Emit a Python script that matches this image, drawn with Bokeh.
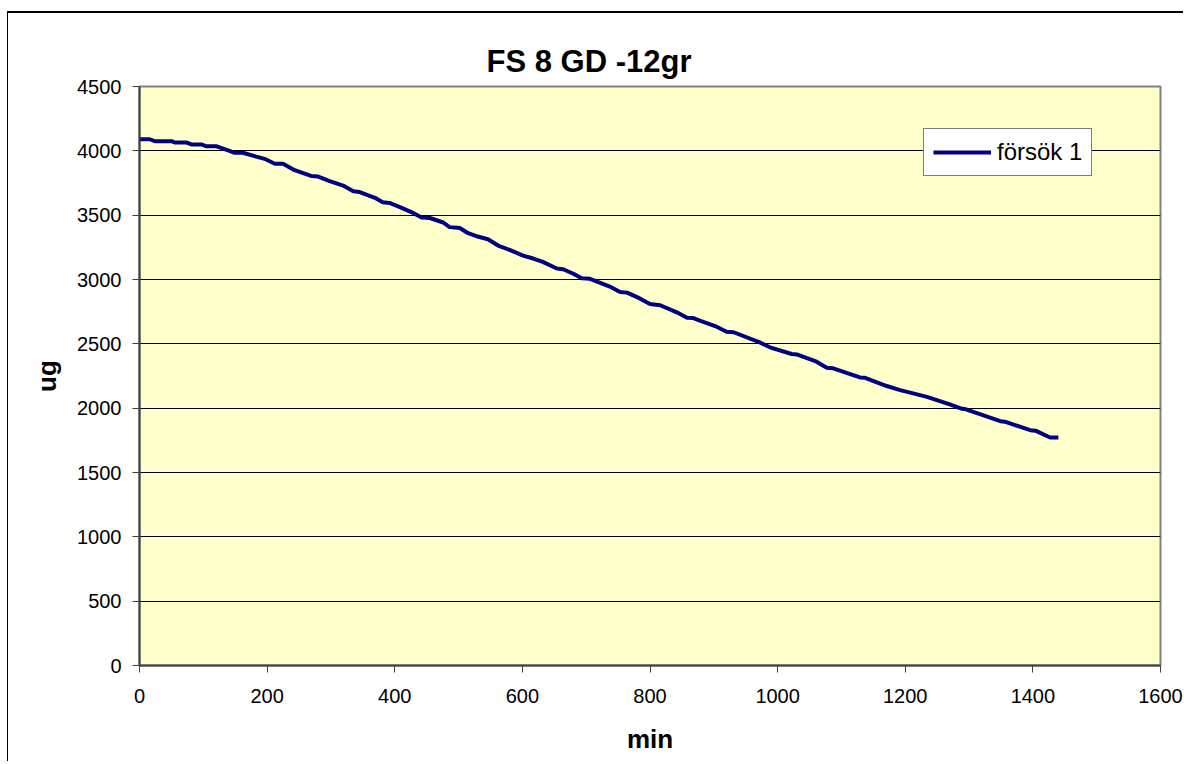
from bokeh.plotting import figure
from bokeh.models import Legend, LegendItem, Range1d, FixedTicker
from bokeh.embed import file_html
from bokeh.resources import INLINE

# data
minutes = [0, 16, 24, 50, 55, 73, 81, 97, 105, 121, 141, 149, 162, 183, 196, 212, 225,
           243, 269, 280, 298, 319, 335, 345, 369, 381, 392, 408, 426, 442, 455, 476,
           486, 502, 515, 530, 546, 562, 580, 601, 617, 632, 654, 664, 680, 693, 706,
           737, 753, 764, 784, 800, 816, 842, 858, 868, 878, 902, 920, 931, 973, 988,
           1022, 1030, 1061, 1077, 1087, 1129, 1137, 1171, 1192, 1234, 1271, 1289,
           1294, 1349, 1356, 1396, 1404, 1427, 1440]
ug = [4090, 4090, 4075, 4075, 4065, 4065, 4050, 4050, 4035, 4035, 4000, 3985, 3985,
      3955, 3938, 3900, 3900, 3850, 3805, 3800, 3765, 3730, 3685, 3680, 3635, 3600,
      3595, 3563, 3524, 3482, 3478, 3443, 3407, 3400, 3360, 3334, 3313, 3264, 3230,
      3186, 3163, 3137, 3085, 3080, 3045, 3009, 3005, 2945, 2903, 2898, 2853, 2809,
      2800, 2745, 2703, 2700, 2680, 2638, 2594, 2590, 2509, 2473, 2421, 2418, 2361,
      2314, 2310, 2239, 2236, 2172, 2140, 2088, 2027, 1995, 1993, 1899, 1895, 1829,
      1825, 1772, 1772]
series_name = "försök 1"
title_text = "FS 8 GD -12gr"
x_label = "min"
y_label = "ug"
x_ticks = [0, 200, 400, 600, 800, 1000, 1200, 1400, 1600]
y_ticks = [0, 500, 1000, 1500, 2000, 2500, 3000, 3500, 4000, 4500]

FONT = "Liberation Sans"

p = figure(width=1176, height=750, output_backend="svg", toolbar_location=None,
           x_range=Range1d(0, 1600), y_range=Range1d(0, 4500),
           min_border_left=131, min_border_right=24, min_border_top=73,
           min_border_bottom=98)
p.margin = (11, 0, 0, 7)
p.styles = {"border-left": "1px solid black", "border-top": "2px solid black"}

p.title.text = title_text
p.title.align = "left"
p.title.text_font = FONT
p.title.text_font_size = "31px"
p.title.text_font_style = "bold"
p.title.text_color = "black"
p.title.offset = 347
p.title.standoff = 16

p.background_fill_color = "#FFFFCC"
p.border_fill_color = "white"
p.outline_line_color = "#808080"
p.outline_line_width = 2

r = p.line(minutes, ug, line_color="#000080", line_width=4)

p.xgrid.grid_line_color = None
p.ygrid.grid_line_color = "black"
p.ygrid.grid_line_width = 1
p.ygrid.ticker = FixedTicker(ticks=y_ticks)

for ax, ticks in ((p.xaxis[0], x_ticks), (p.yaxis[0], y_ticks)):
    ax.ticker = FixedTicker(ticks=ticks)
    ax.major_label_text_font = FONT
    ax.major_label_text_font_size = "20px"
    ax.major_label_text_color = "black"
    ax.axis_line_color = "#404040"
    ax.axis_line_width = 2
    ax.major_tick_line_color = "#404040"
    ax.major_tick_out = 7
    ax.major_tick_in = 0
    ax.minor_tick_line_color = None
    ax.axis_label_text_font = FONT
    ax.axis_label_text_font_size = "26px"
    ax.axis_label_text_font_style = "bold"
    ax.axis_label_text_color = "black"

p.xaxis.axis_label = x_label
p.yaxis.axis_label = y_label
p.xaxis.major_label_standoff = 16
p.xaxis.axis_label_standoff = 18
p.yaxis.major_label_standoff = 11
p.yaxis.axis_label_standoff = 12

legend = Legend(items=[LegendItem(label=series_name, renderers=[r])],
                location=(784, 489), orientation="vertical")
legend.label_text_font = FONT
legend.label_text_font_size = "24px"
legend.label_text_color = "black"
legend.border_line_color = "black"
legend.border_line_width = 1
legend.background_fill_color = "white"
legend.background_fill_alpha = 1
legend.glyph_width = 58
legend.glyph_height = 24
legend.padding = 9
legend.margin = 0
legend.label_standoff = 6
p.add_layout(legend, "center")

open("out.html", "w").write(file_html(p, INLINE))
